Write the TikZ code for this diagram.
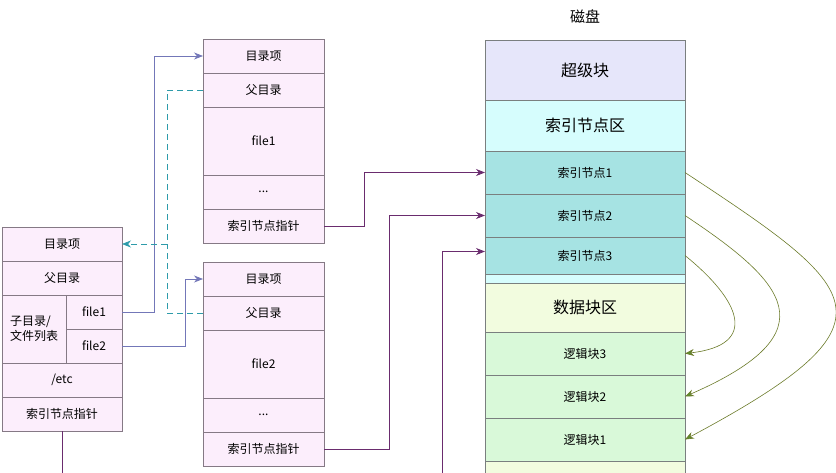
\documentclass[tikz,border=0pt]{standalone}
\usepackage{fontspec}
\setmainfont{Noto Sans CJK SC}
\usepackage{xcolor}
\usepackage{tikz}
\usetikzlibrary{positioning, arrows.meta}
\definecolor{dirpink}{HTML}{FCEEFC}
\definecolor{boxline}{HTML}{857985}
\definecolor{diskline}{HTML}{7A7F7F}
\definecolor{superfill}{HTML}{E6E6FA}
\definecolor{inodearea}{HTML}{D6FDFD}
\definecolor{inodefill}{HTML}{A6E3E3}
\definecolor{dataarea}{HTML}{F2FCDF}
\definecolor{blockfill}{HTML}{D9F9D9}
\definecolor{linkblue}{HTML}{7377B8}
\definecolor{linkteal}{HTML}{2E9BAA}
\definecolor{linkpurple}{HTML}{6A2C6E}
\definecolor{linkolive}{HTML}{6B7B2A}
\definecolor{tipgreen}{HTML}{5E8C2E}
\tikzstyle{dirrow} = [rectangle, draw=boxline, fill=dirpink, minimum width=121, minimum height=34, inner sep=0, outer sep=0, font=\fontsize{12}{15}\selectfont]
\tikzstyle{diskrow} = [rectangle, draw=diskline, minimum width=200, minimum height=43, inner sep=0, outer sep=0, font=\fontsize{12}{15}\selectfont]
\tikzstyle{bigrow} = [diskrow, font=\fontsize{16}{19}\selectfont]
\tikzstyle{filearrow} = [linkblue, line width=0.7pt, -{Stealth[length=9pt, width=7pt]}]
\tikzstyle{parentline} = [linkteal, line width=0.7pt, dash pattern=on 6pt off 4pt]
\tikzstyle{parentarrow} = [parentline, -{Stealth[length=9pt, width=7pt]}]
\tikzstyle{ptrarrow} = [linkpurple, line width=0.8pt, -{Stealth[length=9pt, width=7pt]}]
\tikzstyle{blockarrow} = [linkolive, line width=0.6pt, -{Stealth[length=9pt, width=7pt, fill=tipgreen]}]

\begin{document}
\begin{tikzpicture}[x=1pt, y=-1pt]
				\useasboundingbox (0,0) rectangle (836,472);
				
				% left directory
				\node (lmulu) [dirrow, minimum width=120, anchor=north west] at (2,227) {目录项};
				\node (lfu) [dirrow, minimum width=120, below=0pt of lmulu] {父目录};
				\node (lzi) [dirrow, minimum width=64, minimum height=68, below=0pt of lfu.south west, anchor=north west, align=left] {子目录/\\文件列表};
				\node (lf1) [dirrow, minimum width=56, anchor=north west] at (lzi.north east) {file1};
				\node (lf2) [dirrow, minimum width=56, below=0pt of lf1] {file2};
				\node (letc) [dirrow, minimum width=120, anchor=north west] at (lzi.south west) {/etc};
				\node (lptr) [dirrow, minimum width=120, below=0pt of letc] {索引节点指针};
				
				% file1 directory
				\node (mtmulu) [dirrow, anchor=north west] at (203,39) {目录项};
				\node (mtfu) [dirrow, below=0pt of mtmulu] {父目录};
				\node (mtfile) [dirrow, minimum height=68, below=0pt of mtfu] {file1};
				\node (mtdots) [dirrow, below=0pt of mtfile] {...};
				\node (mtptr) [dirrow, below=0pt of mtdots] {索引节点指针};
				
				% file2 directory
				\node (mbmulu) [dirrow, anchor=north west] at (203,262) {目录项};
				\node (mbfu) [dirrow, below=0pt of mbmulu] {父目录};
				\node (mbfile) [dirrow, minimum height=68, below=0pt of mbfu] {file2};
				\node (mbdots) [dirrow, below=0pt of mbfile] {...};
				\node (mbptr) [dirrow, below=0pt of mbdots] {索引节点指针};
				
				% disk
				\node (disk) [font=\fontsize{15}{18}\selectfont] at (585,17) {磁盘};
				\node (super) [bigrow, fill=superfill, minimum height=60, anchor=north west] at (485,40) {超级块};
				\node (inodes) [bigrow, fill=inodearea, minimum height=51, below=0pt of super] {索引节点区};
				\node (inode1) [diskrow, fill=inodefill, below=0pt of inodes] {索引节点1};
				\node (inode2) [diskrow, fill=inodefill, below=0pt of inode1] {索引节点2};
				\node (inode3) [diskrow, fill=inodefill, minimum height=37, below=0pt of inode2] {索引节点3};
				\node (gap) [diskrow, fill=inodearea, minimum height=9, below=0pt of inode3] {};
				\node (data) [bigrow, fill=dataarea, minimum height=49, below=0pt of gap] {数据块区};
				\node (blk3) [diskrow, fill=blockfill, below=0pt of data] {逻辑块3};
				\node (blk2) [diskrow, fill=blockfill, below=0pt of blk3] {逻辑块2};
				\node (blk1) [diskrow, fill=blockfill, below=0pt of blk2] {逻辑块1};
				\node (rest) [diskrow, fill=dataarea, minimum height=20, below=0pt of blk1] {};
				
				\coordinate (under) at (442,490);
				\coordinate (join) at ([xshift=-36]mbfu.west |- lmulu.east);
				
				\draw [filearrow] (lf1.east) -- ++(32,0) |- (mtmulu.west);
				\draw [filearrow] (lf2.east) -- ++(63,0) |- (mbmulu.west);
				\draw [parentarrow] (mtfu.west) -- ++(-36,0) |- (lmulu.east);
				\draw [parentline] (mbfu.west) -| (join);
				
				\draw [ptrarrow] (mtptr.east) -- ++(40,0) |- (inode1.west);
				\draw [ptrarrow] (mbptr.east) -- ++(65,0) |- (inode2.west);
				\draw [ptrarrow] (lptr.south) |- (under) |- ([yshift=4]inode3.west);
				
				\draw [blockarrow] (inode3.east) .. controls (740,300) and (760,345) .. (blk3.east);
				\draw [blockarrow] (inode2.east) .. controls (785,282) and (833,332) .. (blk2.east);
				\draw [blockarrow] (inode1.east) .. controls (865,291) and (905,322) .. (blk1.east);
				
				\end{tikzpicture}
\end{document}
